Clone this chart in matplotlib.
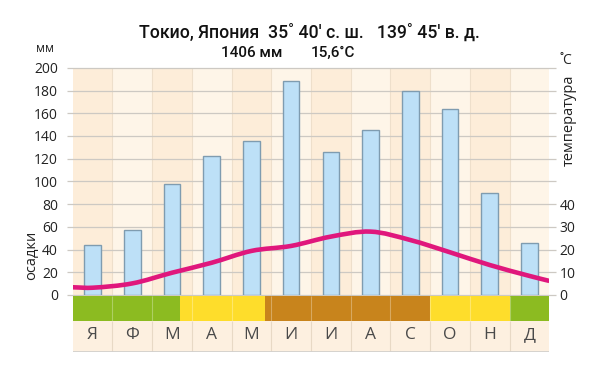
import matplotlib
matplotlib.use('Agg')
import matplotlib.pyplot as plt
from matplotlib.path import Path
from matplotlib.patches import PathPatch

# ---- data ----
months = ['Я', 'Ф', 'М', 'А', 'М', 'И', 'И', 'А', 'С', 'О', 'Н', 'Д']
precip_mm = [44, 57, 97.5, 122.5, 136, 188, 126, 145, 180, 164, 90, 45.5]
temp_c = [3.2, 5.1, 9.8, 14.2, 19.4, 21.6, 25.7, 27.9, 24.2, 18.8, 13.2, 8.4]
temp_edges = [3.4, 6.2]          # line values at the left / right plot edges
precip_ticks = [0, 20, 40, 60, 80, 100, 120, 140, 160, 180, 200]
temp_ticks = [0, 10, 20, 30, 40]
season_bounds = [0, 2.7, 4.84, 9.0, 11.0, 12]
season_colors = ['#8CBB21', '#FEDD2B', '#C8841C', '#FEDD2B', '#8CBB21']
title = "Токио, Япония  35˚ 40' с. ш.   139˚ 45' в. д."
annual_p = "1406 мм"
annual_t = "15,6˚C"

FAM = ['Open Sans', 'DejaVu Sans']
TFAM = ['Roboto', 'Open Sans', 'DejaVu Sans']
plt.rcParams['font.family'] = FAM

W, H = 600, 381
fig = plt.figure(figsize=(W / 100, H / 100), dpi=100)
fig.patch.set_facecolor('white')


def rect(x0, y0, x1, y1):
    return [x0 / W, 1 - y1 / H, (x1 - x0) / W, (y1 - y0) / H]


X0, X1 = 72.7, 549.3
ax = fig.add_axes(rect(X0, 67.8, X1, 295))
ax.set_xlim(0, 12)
ax.set_ylim(0, 200)
for s in ax.spines.values():
    s.set_visible(False)

# column backgrounds
for i in range(12):
    ax.axvspan(i, i + 1, color='#FDEDD9' if i % 2 == 0 else '#FEF5E8', lw=0, zorder=0)
ax.vlines(range(1, 12), 0, 200, color='#EEDFCB', lw=0.8, zorder=0.5)

# grid lines with small outside extensions
ax.hlines(precip_ticks, -0.15, 12.17, color='#CDC9C3', lw=0.9, zorder=1, clip_on=False)

centers = [i + 0.5 for i in range(12)]
ax.bar(centers, precip_mm, width=0.42, color='#BDE0F7', edgecolor='#7F9CB0',
       linewidth=1.0, zorder=2)

ax.set_xticks([])
ax.set_yticks(precip_ticks)
ax.tick_params(axis='y', length=0, pad=10.5, labelsize=10, labelcolor='#222222')

# temperature axis
ax2 = ax.twinx()
ax2.set_ylim(0, 100)
ax2.set_xlim(0, 12)
for s in ax2.spines.values():
    s.set_visible(False)
ax2.set_yticks(temp_ticks)
ax2.tick_params(axis='y', length=0, pad=7.5, labelsize=10, labelcolor='#222222')

xs = [0] + centers + [12]
ys = [temp_edges[0]] + temp_c + [temp_edges[1]]
n = len(xs)
m = []
for i in range(n):
    if i == 0:
        m.append((ys[1] - ys[0]) / (xs[1] - xs[0]))
    elif i == n - 1:
        m.append((ys[-1] - ys[-2]) / (xs[-1] - xs[-2]))
    else:
        m.append((ys[i + 1] - ys[i - 1]) / (xs[i + 1] - xs[i - 1]))
verts = [(xs[0], ys[0])]
codes = [Path.MOVETO]
for i in range(n - 1):
    h = xs[i + 1] - xs[i]
    verts += [(xs[i] + h / 3, ys[i] + m[i] * h / 3),
              (xs[i + 1] - h / 3, ys[i + 1] - m[i + 1] * h / 3),
              (xs[i + 1], ys[i + 1])]
    codes += [Path.CURVE4] * 3
ax2.add_patch(PathPatch(Path(verts, codes), facecolor='none', edgecolor='#E0177C',
                        lw=3.3, capstyle='butt', zorder=5))

# season band
axb = fig.add_axes(rect(X0, 296, X1, 321))
axb.set_xlim(0, 12)
axb.set_ylim(0, 1)
axb.axis('off')
for k in range(len(season_colors)):
    axb.axvspan(season_bounds[k], season_bounds[k + 1], color=season_colors[k], lw=0)
axb.vlines(range(1, 12), 0, 1, color='white', alpha=0.3, lw=0.8)

# month labels
axl = fig.add_axes(rect(X0, 321, X1, 352))
axl.set_xlim(0, 12)
axl.set_ylim(0, 1)
axl.axis('off')
axl.axvspan(0, 12, color='#FDF0E0', lw=0)
axl.vlines(range(1, 12), 0, 1, color='#E8D9C5', lw=0.8)
axl.hlines(0, 0, 12, color='#D2D0CD', lw=1.3)
for i, mlab in enumerate(months):
    axl.text(i + 0.5, 0.55, mlab, ha='center', va='center', fontsize=12.5,
             color='#4A4A4A')

# texts
def t(x, y, s, **kw):
    fig.text(x / W, 1 - y / H, s, ha='center', va='center', **kw)

t(309.7, 33, title, fontsize=12.7, fontweight='medium', color='#111111', family=TFAM)
t(251.7, 53, annual_p, fontsize=11, fontweight='medium', color='#111111', family=TFAM)
t(332.5, 53, annual_t, fontsize=11, fontweight='medium', color='#111111', family=TFAM)
t(45, 49, 'мм', fontsize=9, color='#222222')
t(566, 61, '˚C', fontsize=10, color='#222222')
t(32, 255, 'осадки', fontsize=10.5, rotation=90, color='#222222')
t(569, 120, 'температура', fontsize=10.5, rotation=90, color='#222222')

fig.savefig('out.png', dpi=100)
